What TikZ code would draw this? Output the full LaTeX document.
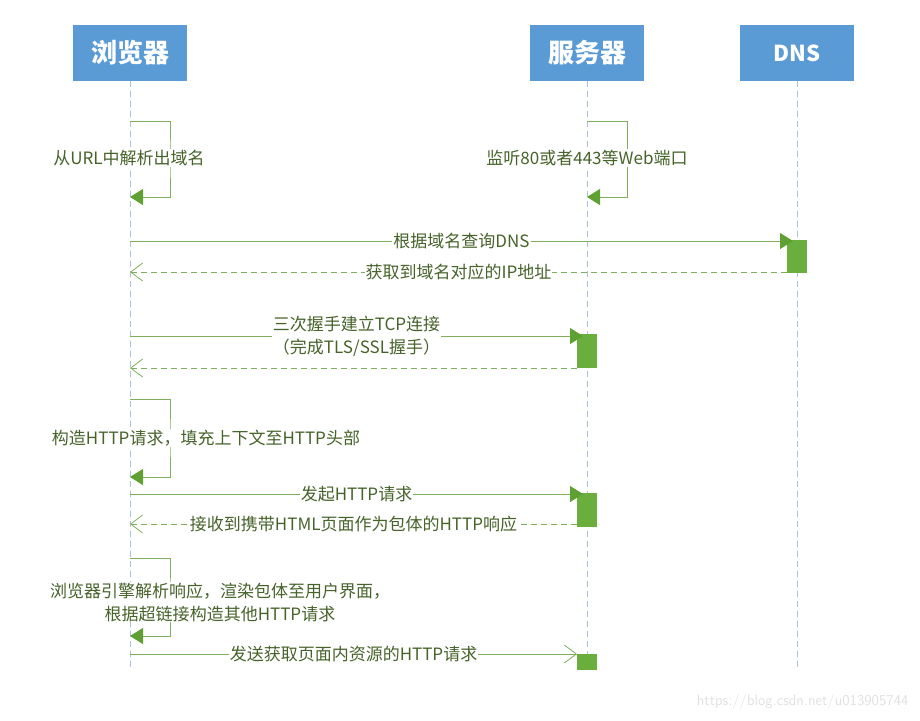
\documentclass[tikz,border=0pt]{standalone}
\usepackage{fontspec}
\setmainfont{Noto Sans CJK SC}
\usetikzlibrary{arrows.meta,positioning}

\definecolor{boxblue}{HTML}{5B9BD5}
\definecolor{lifeblue}{HTML}{A9C1DE}
\definecolor{linegreen}{HTML}{7FAE5C}
\definecolor{headgreen}{HTML}{5EA132}
\definecolor{actgreen}{HTML}{6AAE3E}
\definecolor{txtgreen}{HTML}{46632A}

\tikzset{
  actor/.style={fill=boxblue,text=white,font=\bfseries\fontsize{26}{28}\selectfont,
    minimum width=114pt,minimum height=56pt,inner sep=0pt},
  life/.style={draw=lifeblue,line width=1pt,dash pattern=on 6pt off 4pt},
  msg/.style={draw=linegreen,line width=1pt,
    -{Triangle[length=13pt,width=16pt,color=headgreen]}},
  reply/.style={draw=linegreen,line width=0.9pt,dash pattern=on 6pt off 4pt,
    -{Straight Barb[length=12pt,width=18pt,line width=0.8pt]}},
  openmsg/.style={draw=linegreen,line width=1pt,
    -{Straight Barb[length=12pt,width=18pt,line width=0.8pt]}},
  lbl/.style={fill=white,text=txtgreen,font=\fontsize{17}{23}\selectfont,
    inner sep=1pt,align=center},
  act/.style={fill=actgreen,minimum width=20pt,inner sep=0pt,anchor=north west}
}

\begin{document}
\begin{tikzpicture}[x=1pt,y=-1pt]
  \useasboundingbox (0,0) rectangle (920,720);

  % Actors
  \node[actor] (browser) at (130,53) {浏览器};
  \node[actor] (server) at (587,53) {服务器};
  \node[actor,font=\bfseries\fontsize{22}{24}\selectfont] (dns) at (797,53) {DNS};

  % Lifelines
  \coordinate (browserend) at (130,670);
  \coordinate (serverend) at (587,670);
  \coordinate (dnsend) at (797,670);
  \foreach \n in {browser,server,dns} {
    \draw[life] (\n.south) -- (\n end);
  }

  % Activation boxes
  \node[act,minimum height=33pt] (dnsact) at (787,240) {};
  \node[act,minimum height=34pt] (tcpact) at (577,334) {};
  \node[act,minimum height=34pt] (httpact) at (577,493) {};
  \node[act,minimum height=16pt] (resact) at (577,654) {};

  % Self messages
  \coordinate (s1a) at (130,121); \coordinate (s1b) at (130,197);
  \draw[msg] (s1a) -| ++(40,38) |- (s1b);
  \node[lbl] (urllbl) at (129,158) {从URL中解析出域名};

  \coordinate (s2a) at (587,121); \coordinate (s2b) at (587,197);
  \draw[msg] (s2a) -| ++(40,38) |- (s2b);
  \node[lbl] (portlbl) at (587,158) {监听80或者443等Web端口};

  \coordinate (s3a) at (130,399); \coordinate (s3b) at (130,477);
  \draw[msg] (s3a) -| ++(40,39) |- (s3b);
  \node[lbl] (reqlbl) at (206,438) {构造HTTP请求，填充上下文至HTTP头部};

  \coordinate (s4a) at (130,558); \coordinate (s4b) at (130,636);
  \draw[msg] (s4a) -| ++(40,39) |- (s4b);
  \node[lbl] (renderlbl) at (220,602) {浏览器引擎解析响应，渲染包体至用户界面，\\根据超链接构造其他HTTP请求};

  % DNS query
  \coordinate (q1) at (130,241);
  \draw[msg] (q1) -- node[lbl] {根据域名查询DNS} ([xshift=6pt,yshift=-1pt]dnsact.north west);
  \coordinate (r1) at (130,272);
  \draw[reply] (dnsact.south west |- r1) -- node[lbl] {获取到域名对应的IP地址} (r1);

  % TCP connection
  \coordinate (q2) at (130,336);
  \draw[msg] (q2) -- node[lbl] {三次握手建立TCP连接\\（完成TLS/SSL握手）} ([xshift=6pt,yshift=-2pt]tcpact.north west);
  \coordinate (r2) at (130,368);
  \draw[reply] (tcpact.south west |- r2) -- (r2);

  % HTTP request
  \coordinate (q3) at (130,494);
  \draw[msg] (q3) -- node[lbl] {发起HTTP请求} ([xshift=6pt,yshift=-1pt]httpact.north west);
  \coordinate (r3) at (130,524);
  \draw[reply] (httpact.south west |- r3) -- node[lbl] {接收到携带HTML页面作为包体的HTTP响应} (r3);

  % Resources
  \coordinate (q4) at (130,654);
  \draw[openmsg] (q4) -- node[lbl] {发送获取页面内资源的HTTP请求} (resact.north west);

  % Watermark
  \node[text=black!12,font=\fontsize{15}{17}\selectfont\sffamily,anchor=east] (mark) at (912,702) {https://blog.csdn.net/u013905744};
\end{tikzpicture}
\end{document}
